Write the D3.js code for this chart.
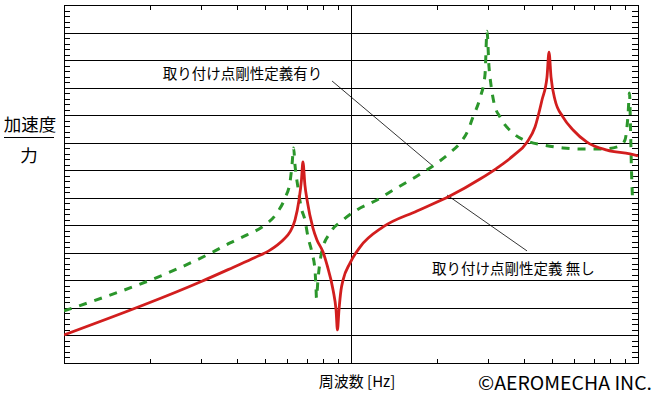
<!DOCTYPE html>
<html>
<head>
<meta charset="utf-8">
<script src="https://cdnjs.cloudflare.com/ajax/libs/d3/7.8.5/d3.min.js"></script>
<style>
    html, body { margin: 0; padding: 0; background: #fff; }
    text { font-family: "Noto Sans CJK JP", "Noto Sans", sans-serif; fill: #000; }
</style>
</head>
<body>
<div id="chart"></div>
<script>
// frequency response (Hz / relative level, 10 per grid line)
const redFreq = [10, 29.8, 38.8, 46.3, 52.2, 58.0, 61.3, 63.8, 65.9, 67.2,
    68.0, 69.1, 70.3, 73.7, 76.1, 79.9, 82.5, 86.6, 88.7, 89.7,
    90.8, 92.3, 93.8, 99.2, 107.5, 129.3, 169.8, 221, 281.5, 322.6,
    366.9, 410.5, 437.7, 462.9, 481.8, 489.7, 497.7, 513.9, 548, 594,
    664, 780, 938, 1000];
const redLevel = [10.2, 29.4, 34.7, 38.3, 41.0, 44.7, 47.6, 51.9, 59.2, 66.4,
    73.0, 64.6, 59.2, 49.0, 44.7, 40.3, 35.6, 26.5, 19.2, 12.0,
    19.2, 26.5, 30.1, 36.3, 42.1, 49.4, 55.2, 60.6, 66.8, 70.8,
    75.2, 80.2, 85.7, 95.5, 103.8, 112.9, 103.8, 95.5, 89.3, 84.6,
    80.2, 77.3, 75.9, 75.2];

const greenFreq = [10, 33.0, 37.9, 43.4, 49.0, 55.2, 58.9, 61.3, 62.3, 63.1,
    63.8, 65.4, 67.0, 69.1, 70.8, 73.2, 74.9, 75.5, 75.8, 76.7,
    79.2, 84.5, 93.8, 104.9, 123.2, 136.7, 156.7, 176.8, 199.4, 221,
    240, 256, 266, 281.5, 293, 297.8, 302.6, 307.5, 315, 330.5,
    366.9, 420.5, 466.7, 548, 628, 755, 865.5, 901, 923, 934,
    942, 949, 957];
const greenLevel = [18.9, 40.3, 43.6, 46.5, 49.4, 54.5, 59.9, 65.7, 71.9, 78.1,
    71.9, 63.5, 56.6, 51.9, 45.8, 39.9, 33.8, 27.6, 23.6, 30.1,
    40.7, 47.2, 51.9, 55.6, 59.2, 62.1, 65.7, 69.0, 72.6, 76.3,
    79.9, 84.6, 89.3, 96.2, 104.6, 120.5, 107.5, 100.9, 94.4, 89.3,
    83.5, 80.2, 79.2, 78.1, 77.7, 77.7, 78.8, 81.0, 90.0, 98.0,
    84.6, 70.1, 59.9];

const gridLevels = [10, 20, 30, 40, 50, 60, 70, 80, 90, 100, 110, 120];
const decadeLines = [100];
const minorFreqs = [20, 30, 40, 50, 60, 70, 80, 90, 200, 300, 400, 500, 600, 700, 800, 900];

// annotations: label position, leader line from (f1,l1) to (f2,l2)
const notes = [
    { text: "取り付け点剛性定義有り", f: 22.1, l: 105.5, f1: 85.9, l1: 102.4, f2: 193.1, l2: 71.5 },
    { text: "取り付け点剛性定義 無し", f: 191.5, l: 34.7, f1: 216, l1: 61.0, f2: 410.5, l2: 40.7 }
];

const W = 662, H = 394;
const plot = { left: 64, right: 638, top: 5, bottom: 363 };

const svg = d3.select("#chart").append("svg")
    .attr("width", W)
    .attr("height", H);

const x = d3.scaleLog().domain([10, 1000]).range([plot.left, plot.right]);
const y = d3.scaleLinear().domain([0, 130]).range([plot.bottom, plot.top]);

// grid
svg.append("g").selectAll("line")
    .data(gridLevels)
    .join("line")
    .attr("x1", plot.left).attr("x2", plot.right)
    .attr("y1", d => Math.round(y(d)) + 0.5).attr("y2", d => Math.round(y(d)) + 0.5)
    .attr("stroke", "#000").attr("stroke-width", 1);

svg.append("g").selectAll("line")
    .data(decadeLines)
    .join("line")
    .attr("x1", d => Math.round(x(d)) + 0.5).attr("x2", d => Math.round(x(d)) + 0.5)
    .attr("y1", plot.top).attr("y2", plot.bottom)
    .attr("stroke", "#000").attr("stroke-width", 1);

// minor ticks
const minorLevels = d3.range(2, 130, 2).filter(v => v % 10 !== 0);
const ticks = svg.append("g").attr("stroke", "#000").attr("stroke-width", 1);
ticks.selectAll(".tl").data(minorLevels).join("line")
    .attr("x1", plot.left).attr("x2", plot.left + 6)
    .attr("y1", d => Math.round(y(d)) + 0.5).attr("y2", d => Math.round(y(d)) + 0.5);
ticks.selectAll(".tr").data(minorLevels).join("line")
    .attr("x1", plot.right - 6).attr("x2", plot.right)
    .attr("y1", d => Math.round(y(d)) + 0.5).attr("y2", d => Math.round(y(d)) + 0.5);
ticks.selectAll(".tt").data(minorFreqs).join("line")
    .attr("x1", d => Math.round(x(d)) + 0.5).attr("x2", d => Math.round(x(d)) + 0.5)
    .attr("y1", plot.top).attr("y2", plot.top + 5);
ticks.selectAll(".tb").data(minorFreqs).join("line")
    .attr("x1", d => Math.round(x(d)) + 0.5).attr("x2", d => Math.round(x(d)) + 0.5)
    .attr("y1", plot.bottom - 4).attr("y2", plot.bottom);

// frame
svg.append("rect")
    .attr("x", plot.left + 0.5).attr("y", plot.top + 0.5)
    .attr("width", plot.right - plot.left).attr("height", plot.bottom - plot.top)
    .attr("fill", "none").attr("stroke", "#000").attr("stroke-width", 1);

// annotation leader lines
svg.append("g").selectAll("line")
    .data(notes)
    .join("line")
    .attr("x1", d => x(d.f1)).attr("y1", d => y(d.l1))
    .attr("x2", d => x(d.f2)).attr("y2", d => y(d.l2))
    .attr("stroke", "#000").attr("stroke-width", 0.8);

// curves
svg.append("clipPath").attr("id", "clip").append("rect")
    .attr("x", plot.left).attr("y", plot.top)
    .attr("width", plot.right - plot.left).attr("height", plot.bottom - plot.top);

const line = d3.line()
    .x(d => x(d[0]))
    .y(d => y(d[1]))
    .curve(d3.curveMonotoneX);

svg.append("path")
    .attr("d", line(d3.zip(greenFreq, greenLevel)))
    .attr("clip-path", "url(#clip)")
    .attr("fill", "none")
    .attr("stroke", "#2b962b")
    .attr("stroke-width", 3)
    .attr("stroke-dasharray", "8,8");

svg.append("path")
    .attr("d", line(d3.zip(redFreq, redLevel)))
    .attr("clip-path", "url(#clip)")
    .attr("fill", "none")
    .attr("stroke", "#d21e1e")
    .attr("stroke-width", 2.8);

// annotation labels
svg.append("g").selectAll("text")
    .data(notes)
    .join("text")
    .attr("x", d => x(d.f)).attr("y", d => y(d.l))
    .attr("dominant-baseline", "central")
    .attr("font-size", 14.5)
    .text(d => d.text);

// axis titles
svg.append("text")
    .attr("x", 30).attr("y", 123)
    .attr("text-anchor", "middle").attr("dominant-baseline", "central")
    .attr("font-size", 17.5)
    .text("加速度");
svg.append("line")
    .attr("x1", 4).attr("x2", 54).attr("y1", 137.5).attr("y2", 137.5)
    .attr("stroke", "#000").attr("stroke-width", 1);
svg.append("text")
    .attr("x", 29).attr("y", 154)
    .attr("text-anchor", "middle").attr("dominant-baseline", "central")
    .attr("font-size", 17.5)
    .text("力");

svg.append("text")
    .attr("x", 357).attr("y", 380.5)
    .attr("text-anchor", "middle").attr("dominant-baseline", "central")
    .attr("font-size", 15)
    .text("周波数 [Hz]");

svg.append("text")
    .attr("x", 652).attr("y", 381.5)
    .attr("text-anchor", "end").attr("dominant-baseline", "central")
    .attr("font-family", "'Liberation Sans', Arial, sans-serif")
    .attr("font-size", 19)
    .attr("textLength", 174)
    .attr("lengthAdjust", "spacingAndGlyphs")
    .text("©AEROMECHA INC.");
</script>
</body>
</html>
